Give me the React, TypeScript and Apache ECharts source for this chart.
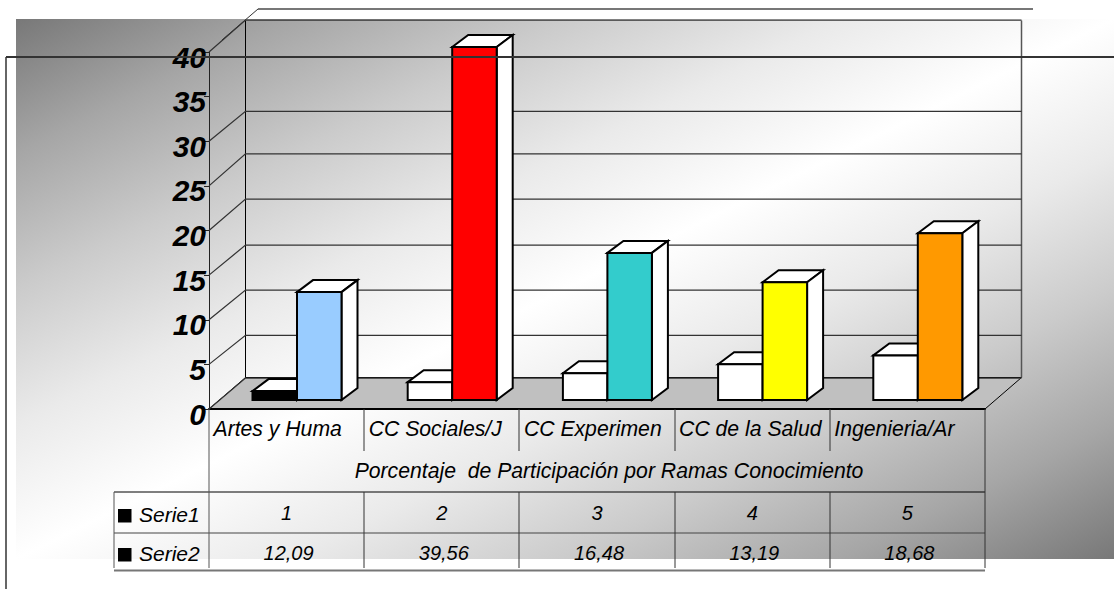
import React, { useEffect, useRef } from "react";
import * as echarts from "echarts";

const categories = ["Artes y Huma", "CC Sociales/J", "CC Experimen", "CC de la Salud", "Ingenieria/Ar"];
const serie1 = [1, 2, 3, 4, 5];
const serie2 = [12.09, 39.56, 16.48, 13.19, 18.68];
const serie1Labels = ["1", "2", "3", "4", "5"];
const serie2Labels = ["12,09", "39,56", "16,48", "13,19", "18,68"];
const serie1Colors = ["#000000", "#ffffff", "#ffffff", "#ffffff", "#ffffff"];
const serie2Colors = ["#99ccff", "#ff0000", "#33cccc", "#ffff00", "#ff9900"];
const wallTicks = [0, 5, 10, 15, 20, 25, 30, 40];
const wallLift = [31, 29, 29.75, 30, 31.5, 32, 30, 32];
const axisTitle = "Porcentaje  de Participación por Ramas Conocimiento";
const seriesNames = ["Serie1", "Serie2"];

const FONT = '"Liberation Sans", Arial, sans-serif';
const W = 1114, H = 589;
const L = 209, R = 985, T = 52, B = 409;
const CELL = (R - L) / 5;
const WALL_DX = 36.5, WALL_DY = -31.5;
const BAR_W = 44.5, BAR_SHIFT_X = 10.4, BAR_SHIFT_Y = -9, BAR_DX = 16, BAR_DY = -12;

function barItem(colors: string[], side: number) {
  return (params: any, api: any) => {
    const i = api.value(0);
    const v = api.value(1);
    const top = api.coord([i, v]);
    const base = api.coord([i, 0]);
    const x0 = top[0] + BAR_SHIFT_X + (side === 0 ? -BAR_W : 0);
    const x1 = x0 + BAR_W;
    const y0 = top[1] + BAR_SHIFT_Y;
    const y1 = base[1] + BAR_SHIFT_Y;
    const st = (fill: string) => ({ fill, stroke: "#000", lineWidth: 2, lineJoin: "miter" });
    return {
      type: "group",
      children: [
        { type: "polygon", shape: { points: [[x0, y0], [x0 + BAR_DX, y0 + BAR_DY], [x1 + BAR_DX, y0 + BAR_DY], [x1, y0]] }, style: st("#ffffff") },
        { type: "polygon", shape: { points: [[x1, y0], [x1 + BAR_DX, y0 + BAR_DY], [x1 + BAR_DX, y1 + BAR_DY], [x1, y1]] }, style: st("#ffffff") },
        { type: "rect", shape: { x: x0, y: y0, width: BAR_W, height: y1 - y0 }, style: st(colors[i]) },
      ],
    };
  };
}

function wallItem(params: any, api: any) {
  const v = api.value(0);
  const p = api.coord([0, v]);
  const y0 = p[1];
  const y1 = y0 - wallLift[params.dataIndex];
  return {
    type: "polyline",
    shape: { points: [[L, y0], [L + WALL_DX, y1], [R + WALL_DX, y1]] },
    style: { fill: "none", stroke: "#333", lineWidth: 1.25 },
  };
}

const line = (x1: number, y1: number, x2: number, y2: number, stroke: string, lineWidth: number, z = 1) => ({
  type: "line", z, shape: { x1, y1, x2, y2 }, style: { stroke, lineWidth },
});

const label = (text: string, x: number, y: number, align: string, size = 21) => ({
  type: "text", z: 5, x, y,
  style: { text, fill: "#000", font: `italic ${size}px ${FONT}`, align, verticalAlign: "middle" },
});

function buildGraphics() {
  const els: any[] = [];
  els.push({
    type: "rect", z: -5, shape: { x: 16, y: 19, width: W - 16, height: 540 },
    style: {
      fill: new echarts.graphic.LinearGradient(0, 0, 1, 1, [
        { offset: 0, color: "#787878" },
        { offset: 0.125, color: "#a6a6a6" },
        { offset: 0.25, color: "#cbcbcb" },
        { offset: 0.375, color: "#eaeaea" },
        { offset: 0.5, color: "#ffffff" },
        { offset: 0.625, color: "#eaeaea" },
        { offset: 0.75, color: "#cbcbcb" },
        { offset: 0.875, color: "#a6a6a6" },
        { offset: 1, color: "#787878" },
      ]),
    },
  });
  // floor
  els.push({
    type: "polygon", z: -1,
    shape: { points: [[L, B], [L + WALL_DX, B + WALL_DY], [R + WALL_DX, B + WALL_DY], [R, B]] },
    style: { fill: "#c0c0c0", stroke: "#000", lineWidth: 1 },
  });
  // back wall verticals
  els.push(line(L + WALL_DX, T + WALL_DY, L + WALL_DX, B + WALL_DY, "#000", 1, -1));
  els.push(line(R + WALL_DX, T + WALL_DY, R + WALL_DX, B + WALL_DY, "#555", 1.5, -1));
  // detached top edge
  els.push(line(222, 40, 258, 9, "#333", 1));
  els.push(line(258, 9, 1033, 9, "#777", 2));
  // page frame lines
  els.push(line(6, 57, W, 57, "#333", 2, 20));
  els.push(line(6, 57, 6, H, "#333", 1.5, 20));
  // table
  els.push(line(114, 492, R, 492, "#000", 1));
  els.push(line(114, 533, R, 533, "#444", 1));
  els.push(line(114, 570.5, R, 570.5, "#777", 2));
  els.push(line(114, 492, 114, 568, "#555", 1));
  els.push(line(L, B, L, 568, "#555", 1));
  els.push(line(R, B, R, 568, "#333", 1));
  for (let i = 1; i < 5; i++) {
    const x = Math.round(L + CELL * i);
    els.push(line(x, B, x, 451, "#333", 1));
    els.push(line(x, 492, x, 568, "#333", 1));
  }
  categories.forEach((c, i) => els.push(label(c, L + CELL * i + 4.5, 428, "left", 21.2)));
  els.push(label(axisTitle, 609, 470, "center", 21.2));
  serie1Labels.forEach((c, i) => els.push(label(c, L + CELL * (i + 0.5), 513, "center", 20)));
  serie2Labels.forEach((c, i) => els.push(label(c, L + CELL * (i + 0.5) + 2, 553, "center", 20)));
  seriesNames.forEach((n, i) => {
    const y = i === 0 ? 514 : 553;
    els.push({ type: "rect", z: 5, shape: { x: 118, y: y - 5, width: 13.5, height: 13.5 }, style: { fill: "#000" } });
    els.push(label(n, 139, y, "left", 21));
  });
  return els;
}

export default function App() {
  const ref = useRef<HTMLDivElement>(null);
  useEffect(() => {
    const chart = echarts.init(ref.current!, null, { renderer: "svg" });
    chart.setOption({
      animation: false,
      backgroundColor: "#ffffff",
      grid: { left: L, top: T, width: R - L, height: B - T, containLabel: false },
      xAxis: {
        type: "category",
        data: categories,
        axisLabel: { show: false },
        axisTick: { show: false },
        axisLine: { show: true, lineStyle: { color: "#000", width: 2 } },
        splitLine: { show: false },
      },
      yAxis: {
        type: "value",
        min: 0,
        max: 40,
        interval: 5,
        splitLine: { show: false },
        axisLine: { show: true, lineStyle: { color: "#222", width: 1 } },
        axisTick: { show: true, length: 5, lineStyle: { color: "#222", width: 1 } },
        axisLabel: {
          color: "#000",
          fontFamily: FONT,
          fontSize: 30,
          fontWeight: "bold",
          fontStyle: "italic",
          margin: 3,
          verticalAlign: "top",
          padding: [-10, 0, 0, 0],
        },
      },
      graphic: { elements: buildGraphics() },
      series: [
        {
          type: "custom", name: "walls", z: 1, silent: true,
          data: wallTicks.map((v) => [v]),
          encode: { y: 0 },
          renderItem: wallItem,
        },
        {
          type: "custom", name: seriesNames[0], z: 3,
          data: serie1.map((v, i) => [i, v]),
          encode: { x: 0, y: 1 },
          renderItem: barItem(serie1Colors, 0),
        },
        {
          type: "custom", name: seriesNames[1], z: 4,
          data: serie2.map((v, i) => [i, v]),
          encode: { x: 0, y: 1 },
          renderItem: barItem(serie2Colors, 1),
        },
      ],
    });
    return () => chart.dispose();
  }, []);
  return <div ref={ref} style={{ position: "absolute", left: 0, top: 0, width: W, height: H }} />;
}
